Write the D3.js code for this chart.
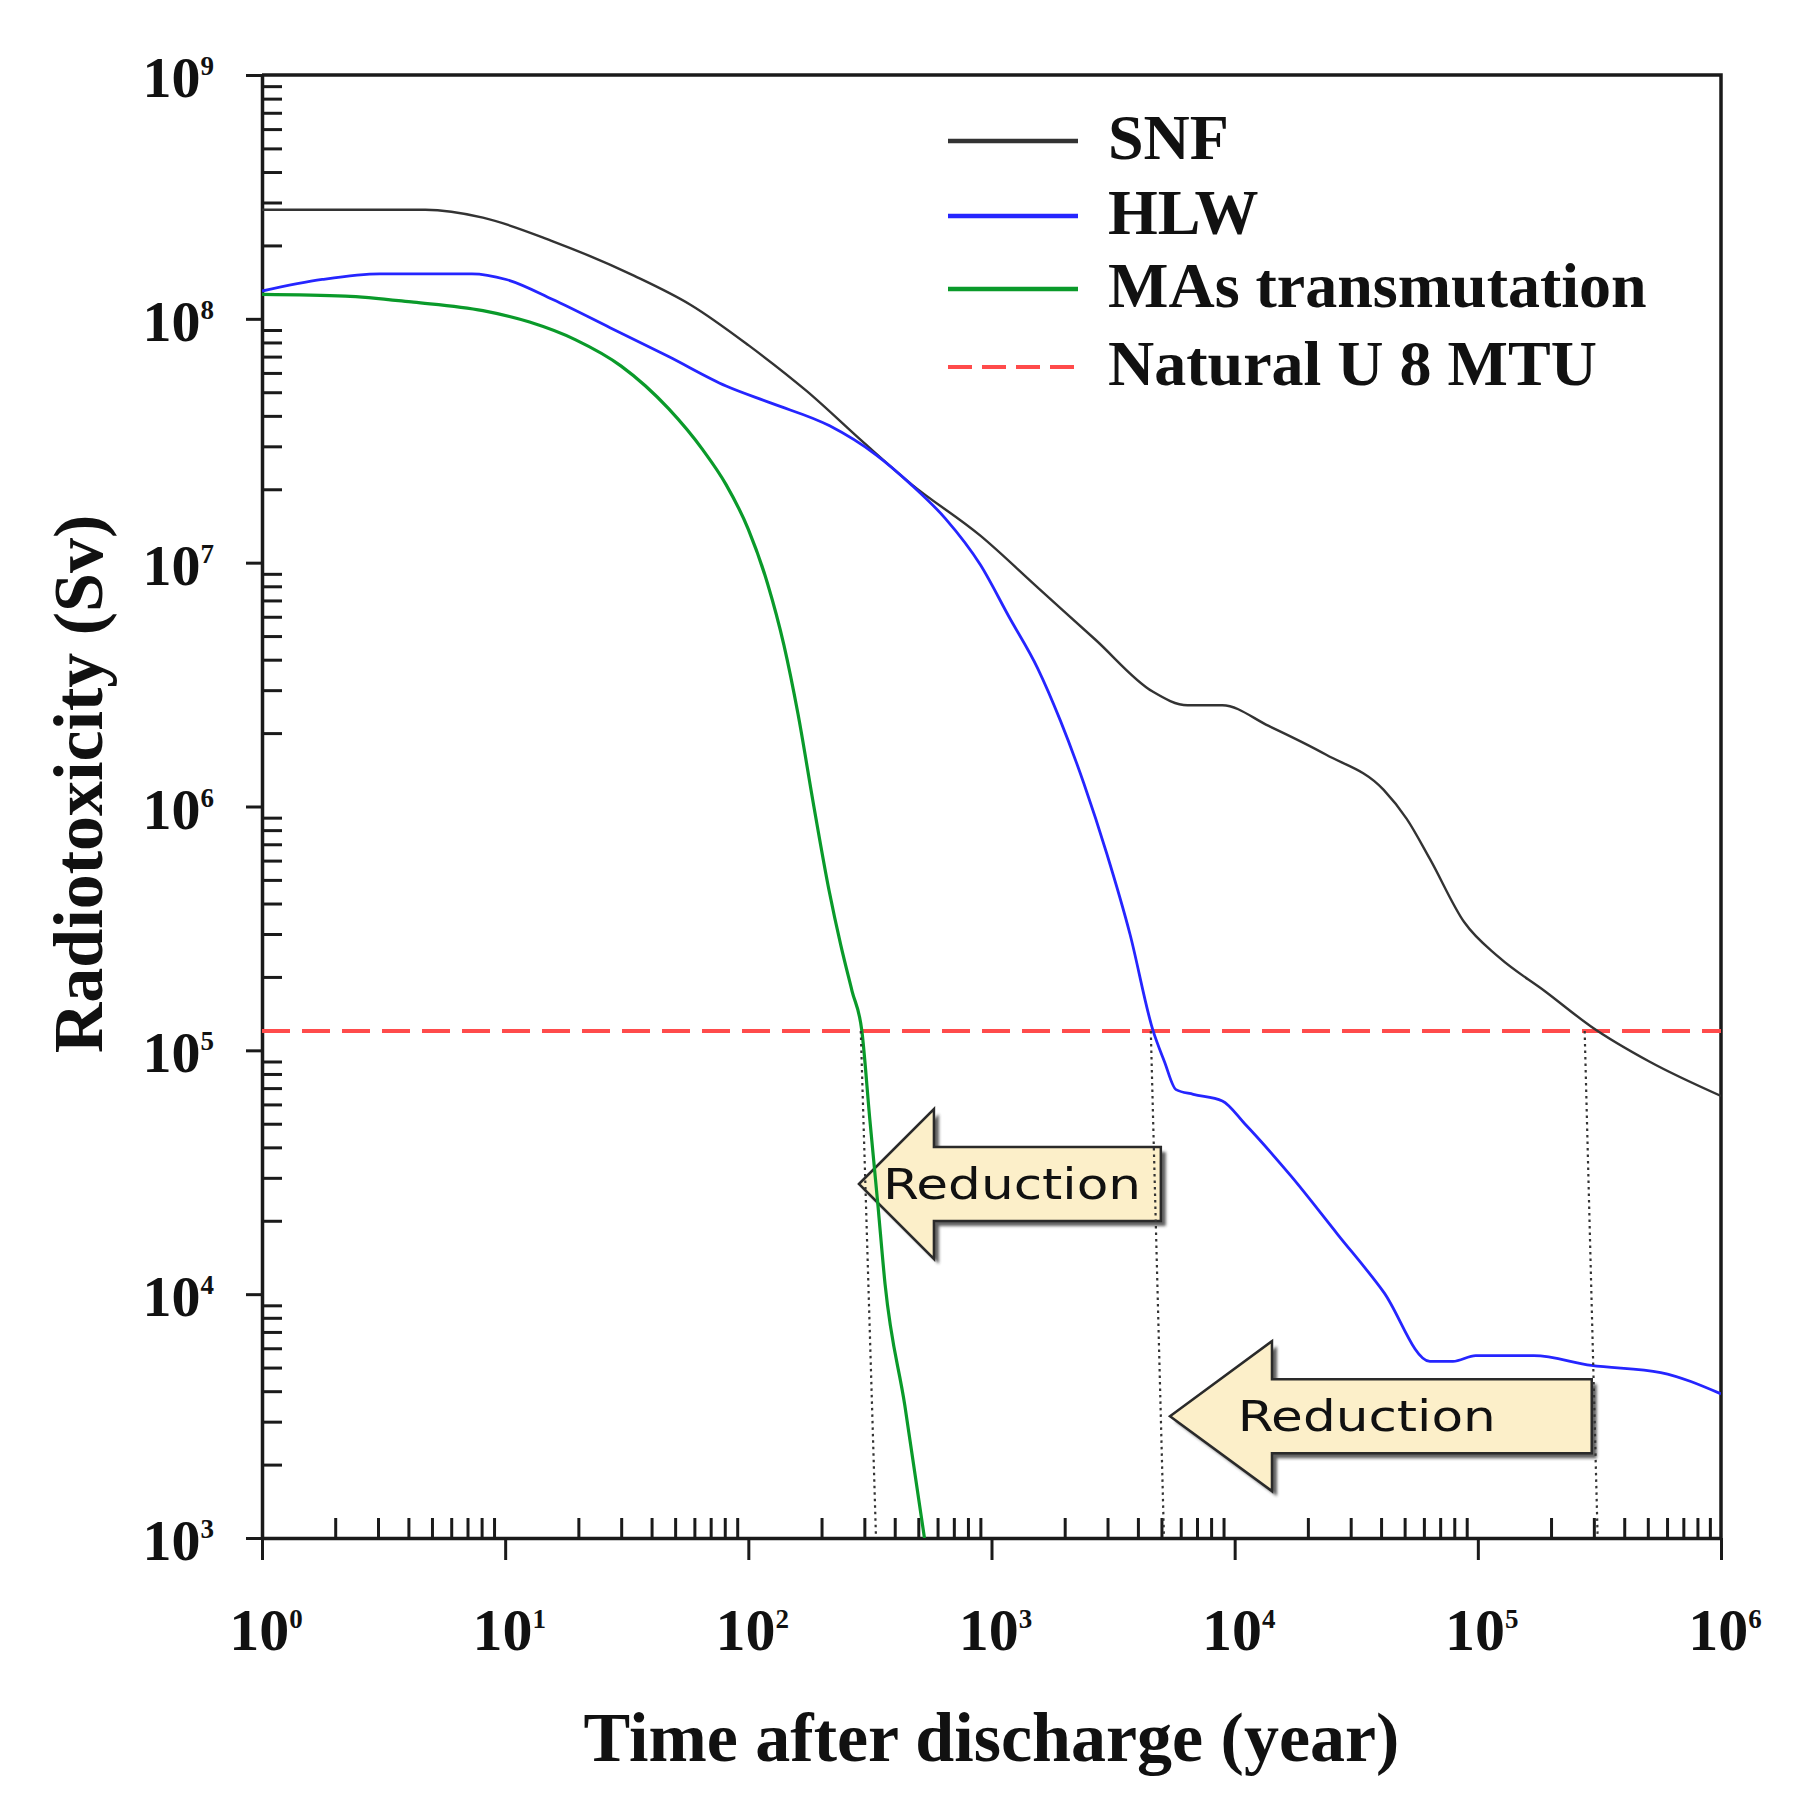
<!DOCTYPE html>
<html>
<meta charset="utf-8">
<style>
body{margin:0;background:#fff;}
text{font-family:"Liberation Serif","DejaVu Serif",serif;font-weight:bold;fill:#111;}
.reduction{font-family:"DejaVu Sans Condensed","DejaVu Sans",sans-serif;font-weight:normal;fill:#111;}
.tick line{stroke:#1a1a1a;stroke-width:3px;}
.domain{stroke:#1a1a1a;stroke-width:3.5px;}
</style>
<body>
<script src="https://cdn.jsdelivr.net/npm/d3@7"></script>
<script>

// spent nuclear fuel
var snfYears=[1,4.7,8.1,15.7,34,58,100,174,300,465,900,1550,2670,4600,6400,8900,13800,23800,41000,51000,63500,88000,122000,190000,293000,507000,1e6];
var snfSv=[2.8e8,2.8e8,2.6e8,2.08e8,1.5e8,1.14e8,7.8e7,5.05e7,3.09e7,2.11e7,1.29e7,7.9e6,4.84e6,2.96e6,2.6e6,2.6e6,2.14e6,1.63e6,1.17e6,8.9e5,6.1e5,3.35e5,2.41e5,1.74e5,1.25e5,9.0e4,6.5e4];

// high level waste
var hlwYears=[1,1.77,3.05,7.3,10.1,15.7,27,47,81,125,216,335,465,645,900,1180,1550,1920,2400,2980,3710,4610,5140,5740,6760,8900,11000,17100,26500,41000,63500,79000,98000,170000,293000,565000,1e6];
var hlwSv=[1.3e8,1.45e8,1.53e8,1.53e8,1.45e8,1.2e8,9.2e7,7.0e7,5.3e7,4.5e7,3.64e7,2.77e7,2.1e7,1.52e7,9.8e6,6.0e6,3.68e6,2.25e6,1.24e6,6.4e5,3.0e5,1.21e5,9.0e4,6.9e4,6.6e4,6.2e4,5.0e4,3.04e4,1.76e4,1.02e4,5.3e3,5.3e3,5.6e3,5.6e3,5.1e3,4.77e3,3.9e3];

// minor actinides transmutation
var masYears=[1,2.2,4.2,8.1,12.6,19.5,30,47,65,81,100,120,140,160,186,215,240,267,293,316,340,365,440,530];
var masSv=[1.26e8,1.24e8,1.17e8,1.08e8,9.7e7,8.2e7,6.4e7,4.28e7,2.9e7,2.09e7,1.37e7,8.2e6,4.6e6,2.4e6,1.0e6,4.5e5,2.7e5,1.75e5,1.2e5,5.2e4,2.4e4,1.1e4,3.5e3,1.0e3];

var naturalU=1.2e5;

// where each curve meets the natural U level (top) and where the dotted drop lands (bottom)
var crossTop=[290,4520,275000];
var crossBottom=[335,5120,311000];

// "Reduction" arrows: tip year, tail year, level, label start year
var arrowTip=[285,5420];
var arrowTail=[4970,294000];
var arrowLevel=[2.83e4,3.16e3];
var arrowLabelAt=[358,10300];

var legendNames=["SNF","HLW","MAs transmutation","Natural U 8 MTU"];
var colors=["#333333","#2525ff","#0a9a2a","#ff4b4b"];

var xMajor=[1,10,100,1e3,1e4,1e5,1e6];
var yMajor=[1e3,1e4,1e5,1e6,1e7,1e8,1e9];

var svg=d3.select("body").append("svg").attr("width",1801).attr("height",1809);

var x=d3.scaleLog().domain([1,1e6]).range([262,1721]);
var y=d3.scaleLog().domain([1e3,1e9]).range([1538,75]);

var x0=x.range()[0], x1=x.range()[1], y0=y.range()[0], y1=y.range()[1];

svg.append("defs").append("clipPath").attr("id","plot")
  .append("rect").attr("x",x0).attr("y",y1).attr("width",x1-x0).attr("height",y0-y1);
var blur=svg.select("defs").append("filter").attr("id","shadow");
blur.append("feGaussianBlur").attr("stdDeviation",1.6);

var xMinor=x.ticks().filter(function(v){return xMajor.indexOf(v)<0;});
var yMinor=y.ticks().filter(function(v){return yMajor.indexOf(v)<0;});

// arrows go under the curves
var ag=svg.append("g");
arrowTip.forEach(function(t,i){
  var tx=x(t), ex=x(arrowTail[i]), cy=y(arrowLevel[i]);
  var hl=i==0?75:102, hh=75, bh=37;
  var p=d3.path();
  p.moveTo(tx,cy); p.lineTo(tx+hl,cy-hh); p.lineTo(tx+hl,cy-bh); p.lineTo(ex,cy-bh);
  p.lineTo(ex,cy+bh); p.lineTo(tx+hl,cy+bh); p.lineTo(tx+hl,cy+hh); p.closePath();
  ag.append("path").attr("d",p.toString()).attr("transform","translate(5,5)")
    .attr("fill","#2a2a2a").attr("opacity",0.75).attr("filter","url(#shadow)");
  ag.append("path").attr("d",p.toString()).attr("fill","#fcefc9")
    .attr("stroke","#2a2a2a").attr("stroke-width",2.5).attr("stroke-linejoin","miter");
  ag.append("text").attr("class","reduction").attr("x",x(arrowLabelAt[i])).attr("y",cy+15)
    .attr("font-size",42).attr("textLength",258).attr("lengthAdjust","spacingAndGlyphs")
    .text("Reduction");
});

// axes
svg.append("g").attr("transform","translate(0,"+y0+")")
  .call(d3.axisBottom(x).tickValues(xMinor).tickSize(-20).tickSizeOuter(0).tickFormat(""));
svg.append("g").attr("transform","translate(0,"+y0+")")
  .call(d3.axisBottom(x).tickValues(xMajor).tickSize(22).tickSizeOuter(0).tickFormat(""))
  .select(".domain").remove();
svg.append("g").attr("transform","translate("+x0+",0)")
  .call(d3.axisLeft(y).tickValues(yMinor).tickSize(-20).tickSizeOuter(0).tickFormat(""));
svg.append("g").attr("transform","translate("+x0+",0)")
  .call(d3.axisLeft(y).tickValues(yMajor).tickSize(16).tickSizeOuter(0).tickFormat(""))
  .select(".domain").remove();

// top and right frame
svg.append("path").attr("d","M"+x0+","+y1+"H"+x1+"V"+y0)
  .attr("fill","none").attr("stroke","#1a1a1a").attr("stroke-width",3.5);

// tick labels 10^n
function power(sel,v){
  sel.append("tspan").text("10");
  sel.append("tspan").attr("font-size",27).attr("dy",-22).text(Math.round(Math.log10(v)));
}
xMajor.forEach(function(v){
  svg.append("text").attr("x",x(v)+4).attr("y",1650).attr("text-anchor","middle")
    .attr("font-size",60).call(power,v);
});
yMajor.forEach(function(v){
  svg.append("text").attr("x",214).attr("y",y(v)+22).attr("text-anchor","end")
    .attr("font-size",58).call(power,v);
});

// axis titles
svg.append("text").attr("x",(x0+x1)/2).attr("y",1761).attr("text-anchor","middle")
  .attr("font-size",70).text("Time after discharge (year)");
svg.append("text").attr("transform","translate(102,784) rotate(-90)").attr("text-anchor","middle")
  .attr("font-size",70).text("Radiotoxicity (Sv)");

// curves
var plot=svg.append("g").attr("clip-path","url(#plot)");
var line=d3.line().x(function(d){return x(d[0]);}).y(function(d){return y(d[1]);}).curve(d3.curveMonotoneX);

plot.append("line").attr("x1",x0).attr("x2",x1).attr("y1",y(naturalU)).attr("y2",y(naturalU))
  .attr("stroke",colors[3]).attr("stroke-width",4).attr("stroke-dasharray","28,12");

var series=[[snfYears,snfSv,2.4],[hlwYears,hlwSv,2.8],[masYears,masSv,3.2]];
series.forEach(function(s,i){
  plot.append("path").datum(d3.zip(s[0],s[1])).attr("d",line)
    .attr("fill","none").attr("stroke",colors[i]).attr("stroke-width",s[2]);
});

// dotted drops from the natural U level
crossTop.forEach(function(t,i){
  plot.append("line").attr("x1",x(t)).attr("y1",y(naturalU)).attr("x2",x(crossBottom[i])).attr("y2",y0)
    .attr("stroke","#333").attr("stroke-width",2.2).attr("stroke-dasharray","2.5,4");
});

// legend
var lg=svg.append("g");
var legendY=[141,216,289,367];
legendNames.forEach(function(n,i){
  lg.append("line").attr("x1",948).attr("x2",1078).attr("y1",legendY[i]).attr("y2",legendY[i])
    .attr("stroke",colors[i]).attr("stroke-width",i==3?4:4.5)
    .attr("stroke-dasharray",i==3?"24,10":null);
  lg.append("text").attr("x",1108).attr("y",legendY[i]+18).attr("font-size",64).text(n);
});

</script>
</body>
</html>
